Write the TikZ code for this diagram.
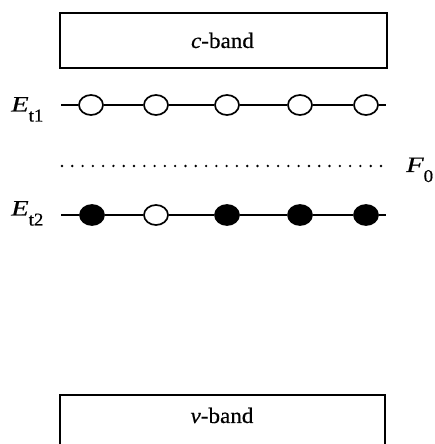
\documentclass[tikz,border=0pt]{standalone}
\usepackage{fontspec}
\usepackage{graphicx}
\setmainfont{Liberation Serif}[UprightFeatures={FakeBold=0.5}, ItalicFeatures={FakeBold=0.5}]
\usetikzlibrary{shapes.geometric}
\newcommand{\wtx}[1]{\scalebox{1.05}[1]{#1}}
\newcommand{\lvl}[2]{\scalebox{1.3}[1]{\itshape #1}\raisebox{-10pt}{\wtx{\fontsize{18}{18}\selectfont #2}}}
\tikzset{
  bandbox/.style={draw, line width=1.8pt, minimum width=327pt, minimum height=55pt, inner sep=0pt},
  lvlline/.style={line width=1.8pt},
  emptyst/.style={ellipse, draw, line width=1.7pt, fill=white, minimum width=24pt, minimum height=20pt, inner sep=0pt},
  fullst/.style={ellipse, draw, line width=1.7pt, fill=black, minimum width=24pt, minimum height=20pt, inner sep=0pt},
  lbl/.style={font=\fontsize{22}{25}\selectfont, inner sep=0pt},
}
\begin{document}
\begin{tikzpicture}[x=1pt,y=1pt]
\useasboundingbox (0,0) rectangle (434,444);
% c-band
\node[bandbox] (cband) at (223.5,403.5) {};
\node[lbl, anchor=base] (ctext) at (222.5,396) {\wtx{\itshape c}\wtx{-band}};
% E_t1
\node[lbl, anchor=base west] (et1) at (11,332.5) {\lvl{E}{t1}};
\coordinate (a1) at (61,339);
\coordinate (b1) at (386,339);
\node[emptyst] (u1) at (91,339) {};
\node[emptyst] (u2) at (156,339) {};
\node[emptyst] (u3) at (227,339) {};
\node[emptyst] (u4) at (300,339) {};
\node[emptyst] (u5) at (366,339) {};
\draw[lvlline] (a1) -- (u1) (u1) -- (u2) (u2) -- (u3) (u3) -- (u4) (u4) -- (u5) (u5) -- (b1);
% Fermi level
\coordinate (f1) at (62,278);
\coordinate (f2) at (383,278);
\draw[line width=2.6pt, line cap=round, dash pattern=on 0pt off 10.29pt] (f1) -- (f2);
\node[lbl, anchor=base west] (f0) at (406,272) {\lvl{F}{0}};
% E_t2
\node[lbl, anchor=base west] (et2) at (11,228.5) {\lvl{E}{t2}};
\coordinate (a2) at (61,229);
\coordinate (b2) at (386,229);
\node[fullst] (w1) at (92,229) {};
\node[emptyst] (w2) at (156,229) {};
\node[fullst] (w3) at (227,229) {};
\node[fullst] (w4) at (300,229) {};
\node[fullst] (w5) at (366,229) {};
\draw[lvlline] (a2) -- (w1) (w1) -- (w2) (w2) -- (w3) (w3) -- (w4) (w4) -- (w5) (w5) -- (b2);
% v-band (open at the bottom edge)
\coordinate (vl) at (60,-2);
\coordinate (vr) at (385,-2);
\coordinate (vtl) at (60,49);
\coordinate (vtr) at (385,49);
\draw[line width=1.8pt] (vl) -- (vtl) -- (vtr) -- (vr);
\node[lbl, anchor=base] (vtext) at (222,21) {\wtx{\itshape v}\wtx{-band}};
\end{tikzpicture}
\end{document}
